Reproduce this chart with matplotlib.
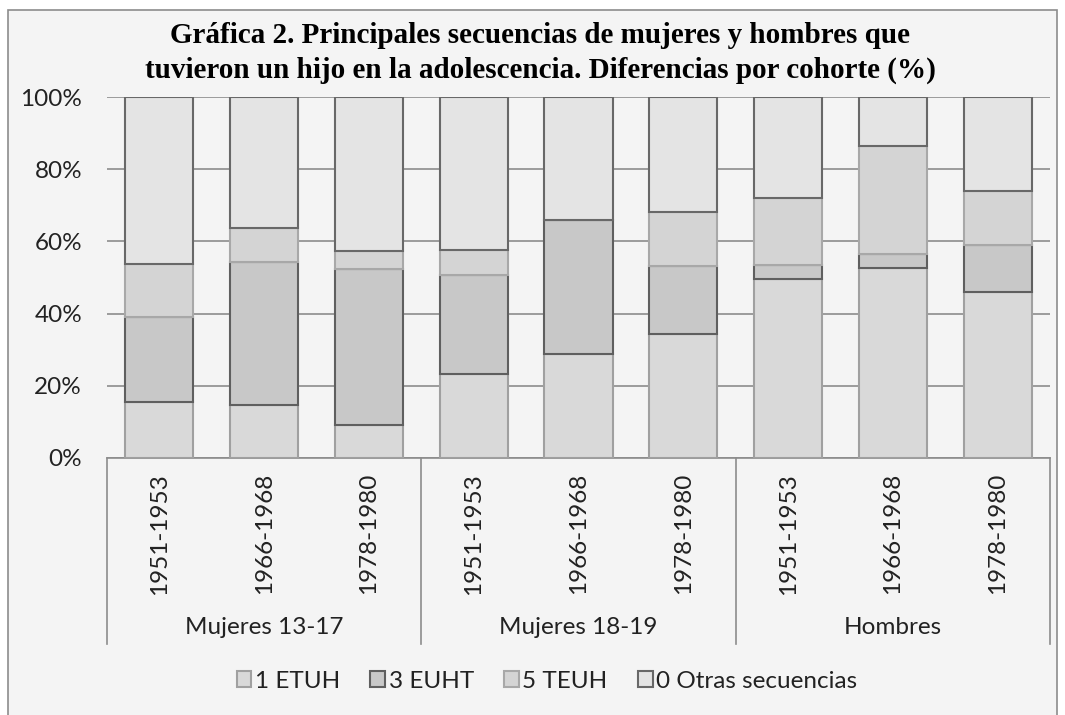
import matplotlib
matplotlib.use('Agg')
import matplotlib.pyplot as plt
import matplotlib.patches as patches
import matplotlib.transforms as mtransforms
import numpy as np

# --- datos (porcentajes) ---
grupos = ['Mujeres 13-17', 'Mujeres 18-19', 'Hombres']
cohortes = ['1951-1953', '1966-1968', '1978-1980']
series = ['1 ETUH', '3 EUHT', '5 TEUH', '0 Otras secuencias']

etuh = [15.4, 14.7, 9.2, 23.4, 28.9, 34.3, 49.5, 52.5, 45.9]
euht = [23.7, 39.5, 43.2, 27.2, 37.1, 19.0, 4.1, 4.0, 13.1]
teuh = [14.6, 9.4, 5.0, 7.1, 0.0, 14.9, 18.4, 29.8, 15.0]
otras = [46.3, 36.4, 42.6, 42.3, 34.0, 31.8, 28.0, 13.7, 26.0]

colores = ['#d9d9d9', '#c8c8c8', '#d4d4d4', '#e4e4e4']
bordes = ['#a0a0a0', '#5f5f5f', '#a8a8a8', '#686868']

fondo = '#f4f4f4'
fuente = ['Lato', 'DejaVu Sans']
tam = 17.5

fig = plt.figure(figsize=(10.65, 7.15), dpi=100, facecolor='white')
marco = patches.Rectangle((8/1065, -0.01), 1049/1065, 1.01 - 10/715,
                          transform=fig.transFigure, fc=fondo, ec='#8c8c8c', lw=1.2, zorder=-10)
fig.add_artist(marco)

ax = fig.add_axes([107/1065, 1 - 458/715, 943/1065, 361/715])
ax.set_facecolor(fondo)

n = len(etuh)
x = np.arange(n)
base = np.zeros(n)
for vals, nombre, c, e in zip([etuh, euht, teuh, otras], series, colores, bordes):
    vals = np.array(vals)
    ax.bar(x, vals, 0.65, bottom=base, color=c, edgecolor=e, linewidth=1.5, label=nombre, zorder=3)
    base = base + vals

ax.set_xlim(-0.5, n - 0.5)
ax.set_ylim(0, 100)
ax.set_yticks(np.arange(0, 101, 20))
ax.set_yticklabels([f'{v}%' for v in range(0, 101, 20)], fontsize=tam, family=fuente, color='#222222')
ax.yaxis.grid(True, color='#8c8c8c', lw=1.2, zorder=0)
ax.tick_params(axis='y', length=0, pad=18)
ax.set_xticks([])
for s in ['left', 'right', 'top']:
    ax.spines[s].set_visible(False)
ax.spines['bottom'].set_color('#8c8c8c')
ax.spines['bottom'].set_linewidth(1.2)

# eje de categorias en dos niveles
trans = mtransforms.blended_transform_factory(ax.transData, ax.transAxes)
for xv in [-0.5, 2.5, 5.5, 8.5]:
    ax.plot([xv, xv], [0, -0.515], color='#8c8c8c', lw=1.2, transform=trans, clip_on=False)
for i in range(n):
    ax.text(i, -0.21, cohortes[i % 3], rotation=90, ha='center', va='center',
            fontsize=tam, family=fuente, color='#222222', transform=trans)
for g, nombre in enumerate(grupos):
    ax.text(3 * g + 1, -0.47, nombre, ha='center', va='center',
            fontsize=tam, family=fuente, color='#222222', transform=trans)

fig.text(540/1065, 1 - 53/715,
         'Gráfica 2. Principales secuencias de mujeres y hombres que\n'
         'tuvieron un hijo en la adolescencia. Diferencias por cohorte (%)',
         ha='center', va='center', fontsize=21, weight='bold', family='Liberation Serif',
         linespacing=1.4)

fig.legend(loc='center', bbox_to_anchor=(547/1065, 1 - 681/715), ncol=4, frameon=False,
           prop={'family': fuente, 'size': tam}, handlelength=0.6, handleheight=0.6,
           handletextpad=0.15, columnspacing=1.25, labelcolor='#222222')

fig.savefig('out.png', dpi=100, facecolor=fig.get_facecolor())
